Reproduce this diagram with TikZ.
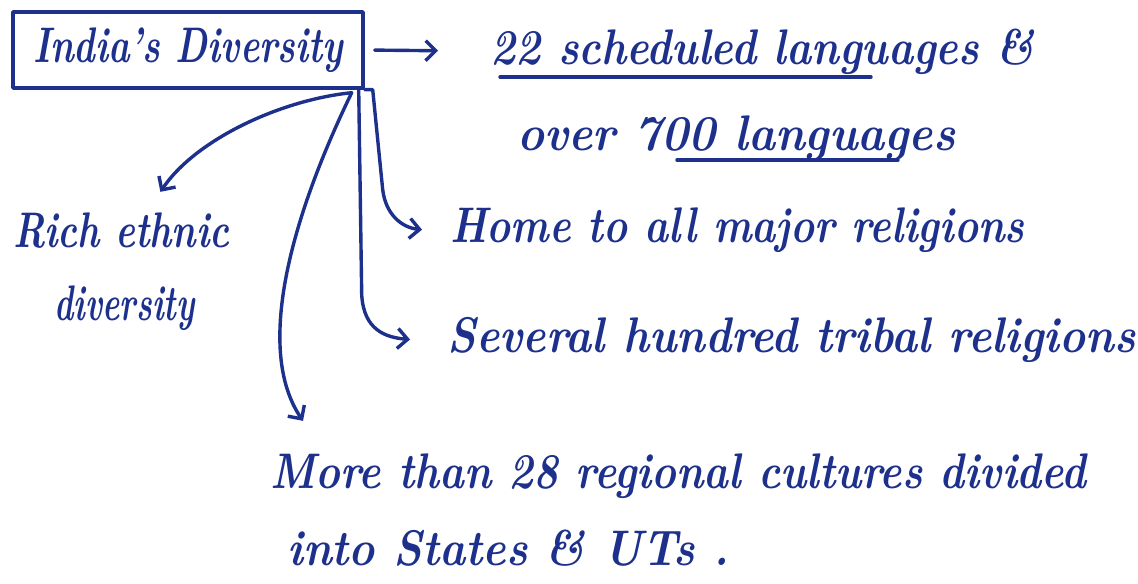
\documentclass[tikz,border=0pt]{standalone}
\usetikzlibrary{arrows.meta,calc}
\definecolor{ink}{RGB}{28,48,140}
\newcommand\hw[2]{\resizebox{#1}{\height}{#2}}
\begin{document}
\begin{tikzpicture}[x=0.5pt,y=-0.5pt,
  inkline/.style={draw=ink,line width=1.7pt,line cap=round,line join=round},
  arr/.style={inkline,-{Straight Barb[length=5pt,width=10pt]}},
  txt/.style={inner sep=0pt,text=ink,font=\fontsize{25}{30}\selectfont\bfseries\itshape}]
\useasboundingbox (0,0) rectangle (1138,583);
% title box
\node[inkline,txt,minimum width=175pt,minimum height=38pt] (box) at (188,50) {\hw{155pt}{India's Diversity}};
% texts
\node[txt,anchor=base west] (l1) at (490,64) {\hw{272pt}{22 scheduled languages \&}};
\node[txt,anchor=base west] (l2) at (517,150) {\hw{219pt}{over 700 languages}};
\node[txt,anchor=base west] (rich) at (13,247) {\hw{108pt}{Rich ethnic}};
\node[txt,anchor=base west] (rich2) at (54,320) {\hw{70pt}{diversity}};
\node[txt,anchor=base west] (home) at (450,242) {\hw{287pt}{Home to all major religions}};
\node[txt,anchor=base west] (sev) at (447,352) {\hw{344pt}{Several hundred tribal religions}};
\node[txt,anchor=base west] (more) at (270,488) {\hw{408pt}{More than 28 regional cultures divided}};
\node[txt,anchor=base west] (more2) at (287,565) {\hw{221pt}{into States \& UTs .}};
% underlines
\draw[inkline] (500,77) -- (871,77);
\draw[inkline] (677,160) -- (898,160);
% branch start points
\coordinate (s1) at ($(box.south east)+(-13,3)$);
\coordinate (s2) at ($(box.south east)+(-6,0)$);
\coordinate (s3) at ($(box.south east)+(8,0)$);
% connectors
\draw[arr,shorten <=5pt,shorten >=26pt] (box.east) -- (l1.west);
\draw[arr] (s1) .. controls (280,100) and (195,140) .. ($(rich.north)+(39,-20)$);
\draw[arr] (s1) .. controls (290,220) and (255,350) .. ($(more.north west)+(33,-32)$);
\draw[arr] (s2) -- ($(s2)+(3,205)$) .. controls +(2,35) and +(-25,-2) .. ($(sev.west)+(-37,0)$);
\draw[arr] (box.south east) -- (s3) -- ($(s3)+(10,100)$) .. controls +(3,25) and +(-20,-2) .. ($(home.west)+(-28,0)$);
\end{tikzpicture}
\end{document}
